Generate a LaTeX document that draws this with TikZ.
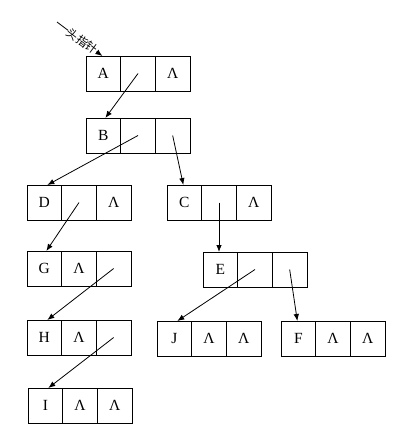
\documentclass[tikz,border=0pt]{standalone}
\usepackage{fontspec}
\setmainfont{Liberation Serif}
\newfontfamily\cjk{Noto Sans CJK SC}
\usetikzlibrary{arrows.meta}
\tikzset{
  cell/.style={draw, line width=0.9pt, minimum width=34.67pt, minimum height=35pt,
    inner sep=0pt, outer sep=0pt, font=\fontsize{15.5}{15.5}\selectfont},
  link/.style={line width=0.8pt, -{Latex[length=7pt,width=5.5pt]}}
}
\newcommand\listnode[6]{%
  \node[cell, anchor=north west] (#1a) at (#2,#3) {#4};
  \node[cell, anchor=west] (#1b) at (#1a.east) {#5};
  \node[cell, anchor=west] (#1c) at (#1b.east) {#6};
}
\newcommand\nul{Λ}
\begin{document}
\begin{tikzpicture}[x=1pt,y=-1pt]
\useasboundingbox (0,0) rectangle (413,437);
\listnode{A}{86}{56}{A}{}{\nul}
\listnode{B}{86}{118}{B}{}{}
\listnode{D}{27}{185}{D}{}{\nul}
\listnode{C}{167}{185}{C}{}{\nul}
\listnode{G}{27}{251}{G}{\nul}{}
\listnode{E}{203}{252}{E}{}{}
\listnode{H}{27}{320}{H}{\nul}{}
\listnode{J}{157}{321}{J}{\nul}{\nul}
\listnode{F}{281}{321}{F}{\nul}{\nul}
\listnode{I}{28}{388}{I}{\nul}{\nul}
\coordinate (hp) at (57,22);
\draw[link] (hp) -- node[pos=0.56, sloped, fill=white, inner sep=0.3pt, font=\cjk\fontsize{11.5}{11.5}\selectfont] (hptext) {头指针} ([xshift=-1pt]Aa.north);
\draw[link] (Ab.center) -- ([xshift=2pt]Ba.north);
\draw[link] (Bb.center) -- ([xshift=3pt]Da.north);
\draw[link] (Bc.center) -- ([xshift=-1pt]Ca.north);
\draw[link] (Db.center) -- ([xshift=2pt]Ga.north);
\draw[link] (Gc.center) -- ([xshift=3pt]Ha.north);
\draw[link] (Hc.center) -- ([xshift=3pt]Ia.north);
\draw[link] (Cb.center) -- (Cb.center |- Ea.north);
\draw[link] (Eb.center) -- ([xshift=3pt]Ja.north);
\draw[link] (Ec.center) -- ([xshift=-1pt]Fa.north);
\end{tikzpicture}
\end{document}
